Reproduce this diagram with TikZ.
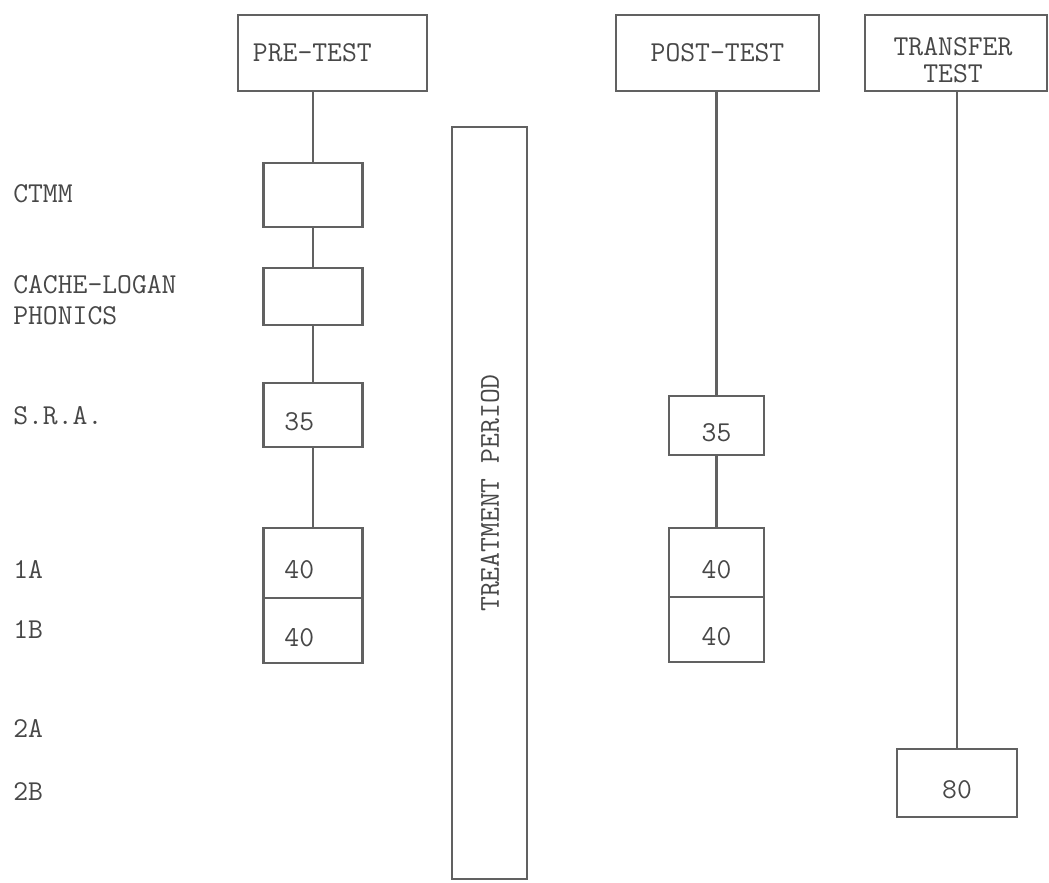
\documentclass[tikz,border=0pt]{standalone}
\usetikzlibrary{positioning}

\begin{document}
\begin{tikzpicture}[
  x=0.025cm, y=-0.025cm,
  every node/.style = {text=black!72, font=\fontsize{20.5}{22}\selectfont\ttfamily},
  test/.style    = {draw=black!62, line width=1.5pt, minimum height=1.9cm, inner sep=0pt},
  pretest/.style = {test, align=left, text width=3.975cm, inner xsep=0.375cm},
  cell/.style    = {draw=black!62, line width=1.5pt, inner sep=0pt, minimum width=2.475cm,
                    text height=0.79cm, text depth=0pt},
  precell/.style = {cell, align=left, text width=1.425cm, inner xsep=0.525cm},
  row/.style     = {anchor=west, align=left, inner sep=0pt},
  link/.style    = {draw=black!62, line width=1.5pt},
]
\useasboundingbox (0,0) rectangle (1049,882);

% ---- the three tests ------------------------------------------------------
\node[pretest]                          (pre)  at (332.5,53) {PRE-TEST};
\node[test, minimum width=5.075cm]      (post) at (717.5,53) {POST-TEST};
\node[test, minimum width=4.55cm]       (tra)  at (956,53)   {};
\node[align=center, inner sep=0pt, font=\fontsize{20.5}{19}\selectfont\ttfamily]
  (traText) at (953,60) {TRANSFER\\TEST};

% ---- row labels -----------------------------------------------------------
\node[row] (lCtmm)  at (13,193.5) {CTMM};
\node[row] (lCache) at (13,300.5) {CACHE-LOGAN\\PHONICS};
\node[row] (lSra)   at (13,415.5) {S.R.A.};
\node[row] (l1a)    at (13,569)   {1A};
\node[row] (l1b)    at (13,630)   {1B};
\node[row] (l2a)    at (13,728)   {2A};
\node[row] (l2b)    at (13,792)   {2B};

% ---- pre-test column ------------------------------------------------------
\node[precell, minimum height=1.6cm]   (pCtmm)  at (313,195)   {};
\node[precell, minimum height=1.425cm] (pCache) at (313,296.5) {};
\node[precell, minimum height=1.6cm]   (pSra)   at (313,415)   {35};
\node[precell, minimum height=1.75cm]  (p1a)    at (313,563)   {40};
\node[precell, minimum height=1.625cm] (p1b)    at (313,630.5) {40};

\draw[link] (pre.south -| pCtmm.north) -- (pCtmm.north);
\draw[link] (pCtmm.south) -- (pCache.north);
\draw[link] (pCache.south) -- (pSra.north);
\draw[link] (pSra.south) -- (p1a.north);

% ---- treatment ------------------------------------------------------------
\node[draw=black!62, line width=1.5pt, minimum width=1.875cm, minimum height=18.8cm]
  (treat) at (489.5,503) {};
\node[rotate=90] (tLabel) at (490,493) {TREATMENT PERIOD};

% ---- post-test column -----------------------------------------------------
\node[cell, minimum width=2.375cm, minimum height=1.475cm] (qSra) at (716.5,425.5) {35};
\node[cell, minimum width=2.375cm, minimum height=1.725cm] (q1a)  at (716.5,562.5) {40};
\node[cell, minimum width=2.375cm, minimum height=1.625cm] (q1b)  at (716.5,629.5) {40};

\draw[link] (post.south -| qSra.north) -- (qSra.north);
\draw[link] (qSra.south) -- (q1a.north);

% ---- transfer column ------------------------------------------------------
\node[cell, minimum width=3cm, minimum height=1.7cm] (t2b) at (957,783) {80};
\draw[link] (tra.south -| t2b.north) -- (t2b.north);

\end{tikzpicture}
\end{document}
